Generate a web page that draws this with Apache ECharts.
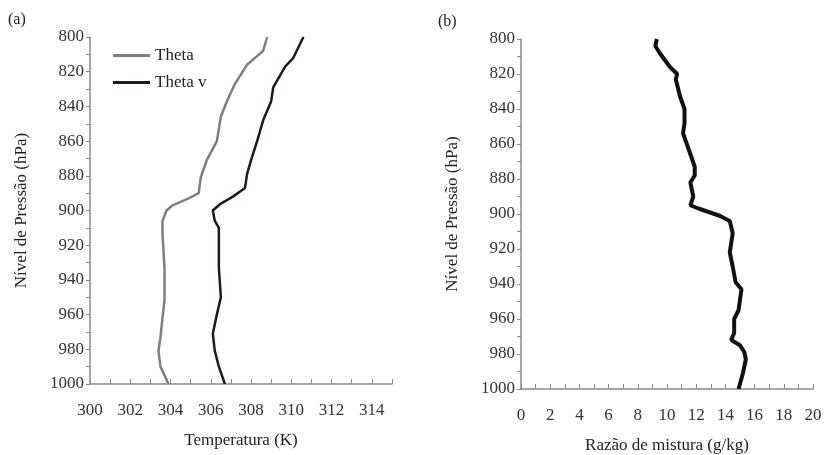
<!DOCTYPE html>
<html><head><meta charset="utf-8">
<script src="https://cdn.jsdelivr.net/npm/echarts@6/dist/echarts.min.js"></script>
<style>html,body{margin:0;background:#fff}#c{width:826px;height:455px}</style>
</head><body><div id="c"></div>
<script>
var thetaP = [800,808,816,827,837,846,860,871,881,890,893,897,900,906,913,933,952,962,973,981,990,1000];
var thetaT = [308.8,308.6,307.8,307.2,306.8,306.5,306.3,305.8,305.5,305.4,304.9,304.1,303.8,303.6,303.6,303.7,303.7,303.6,303.5,303.4,303.5,303.9];
var thetavP = [800,812,817,829,837,848,860,871,879,887,892,896,900,906,910,923,933,950,960,971,981,990,1000];
var thetavT = [310.6,310.1,309.7,309.1,309.0,308.6,308.3,308.0,307.8,307.7,307.1,306.5,306.1,306.2,306.4,306.4,306.4,306.5,306.3,306.1,306.2,306.4,306.7];
var mixP = [800,804,808,816,820,823,833,840,848,854,861,873,878,882,890,895,897,901,904,911,922,930,939,943,955,960,968,972,975,979,983,991,1000];
var mixQ = [9.3,9.2,9.5,10.2,10.7,10.6,10.9,11.2,11.2,11.1,11.4,11.9,11.9,11.6,11.8,11.6,12.2,13.6,14.3,14.5,14.3,14.5,14.7,15.1,14.9,14.6,14.6,14.4,15.0,15.3,15.4,15.2,14.9];

function zip(x, y) { return x.map(function (v, i) { return [v, y[i]]; }); }

var font = 'Liberation Serif';
var axisCol = '#8a8a8a';
function xAxis(idx, min, max, name) {
  return {
    gridIndex: idx, type: 'value', min: min, max: max, interval: 1,
    name: name, nameLocation: 'middle', nameGap: 48,
    nameTextStyle: { fontFamily: font, fontSize: 17, color: '#222' },
    axisLine: { lineStyle: { color: axisCol, width: 1.5 } },
    axisTick: { inside: true, lineStyle: { color: axisCol }, length: 5 },
    splitLine: { show: false },
    axisLabel: { fontFamily: font, fontSize: 17, color: '#333', margin: 18,
      formatter: function (v) { return v % 2 === 0 ? v : ''; } }
  };
}
function yAxis(idx) {
  return {
    gridIndex: idx, type: 'value', min: 800, max: 1000, interval: 10, inverse: true,
    name: 'Nível de Pressão (hPa)', nameLocation: 'middle', nameGap: 60,
    nameTextStyle: { fontFamily: font, fontSize: 17, color: '#222' },
    axisLine: { show: true, lineStyle: { color: axisCol, width: 1.5 } },
    axisTick: { show: true, length: 4, lineStyle: { color: axisCol } },
    splitLine: { show: false },
    axisLabel: { fontFamily: font, fontSize: 17, color: '#333', margin: 6,
      formatter: function (v) { return v % 20 === 0 ? v : ''; } }
  };
}

var chart = echarts.init(document.getElementById('c'));
chart.setOption({
  animation: false,
  grid: [
    { left: 90, top: 37, width: 302, height: 347, outerBoundsMode: 'none' },
    { left: 521, top: 39, width: 292, height: 350, outerBoundsMode: 'none' }
  ],
  xAxis: [xAxis(0, 300, 315, 'Temperatura (K)'), xAxis(1, 0, 20, 'Razão de mistura (g/kg)')],
  yAxis: [yAxis(0), yAxis(1)],
  legend: {
    left: 108, top: 42, orient: 'vertical', itemGap: 10, itemWidth: 37, itemHeight: 3,
    icon: 'rect', textStyle: { fontFamily: font, fontSize: 17, color: '#222' },
    data: ['Theta', 'Theta v']
  },
  graphic: [
    { type: 'text', left: 8, top: 12, style: { text: '(a)', font: '16px Liberation Serif', fill: '#222' } },
    { type: 'text', left: 438, top: 14, style: { text: '(b)', font: '16px Liberation Serif', fill: '#222' } }
  ],
  series: [
    { name: 'Theta', type: 'line', xAxisIndex: 0, yAxisIndex: 0, showSymbol: false,
      lineStyle: { color: '#7f7f7f', width: 2.5 }, itemStyle: { color: '#7f7f7f' },
      data: zip(thetaT, thetaP) },
    { name: 'Theta v', type: 'line', xAxisIndex: 0, yAxisIndex: 0, showSymbol: false,
      lineStyle: { color: '#142014', width: 2.5 }, itemStyle: { color: '#142014' },
      data: zip(thetavT, thetavP) },
    { name: 'Mix', type: 'line', xAxisIndex: 1, yAxisIndex: 1, showSymbol: false,
      lineStyle: { color: '#111', width: 4 },
      data: zip(mixQ, mixP) }
  ]
});
</script></body></html>
